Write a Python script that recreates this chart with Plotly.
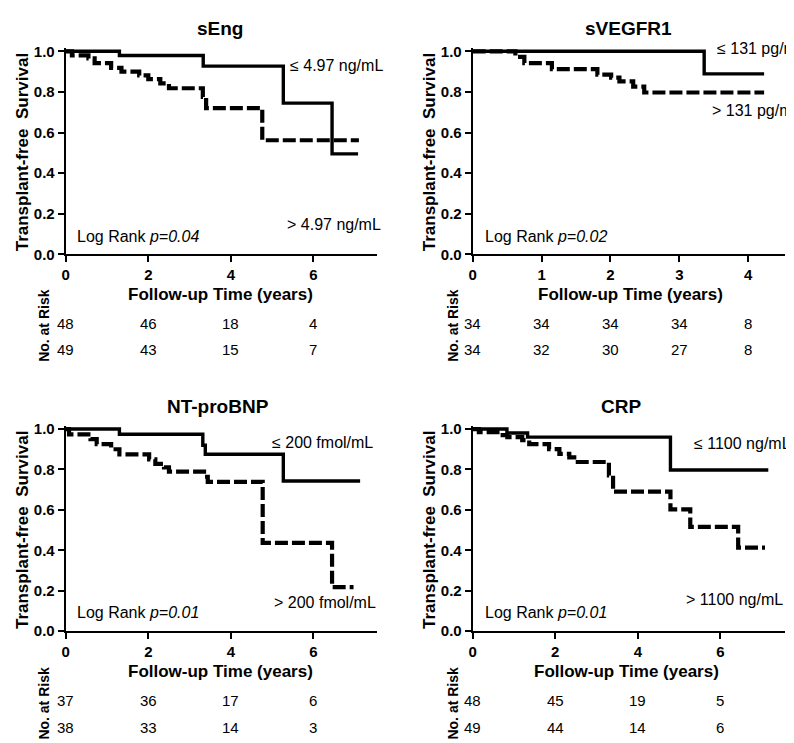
import plotly.graph_objects as go

W, H = 794, 743
FONT = "Arial, Liberation Sans, sans-serif"

# ---------------- data ----------------
panel_titles = ["sEng", "sVEGFR1", "NT-proBNP", "CRP"]

seng_low_t = [0, 1.3, 3.33, 5.27, 6.45, 7.08]
seng_low_s = [1.0, 0.979, 0.927, 0.745, 0.495, 0.495]
seng_high_t = [0, 0.15, 0.55, 0.7, 1.1, 1.35, 1.78, 2.0, 2.29, 2.5, 3.32, 3.4, 4.76, 7.1]
seng_high_s = [1.0, 0.98, 0.965, 0.942, 0.918, 0.9, 0.881, 0.863, 0.842, 0.818, 0.775, 0.72, 0.562, 0.562]

vegf_low_t = [0, 3.36, 4.23]
vegf_low_s = [1.0, 0.889, 0.889]
vegf_high_t = [0, 0.62, 0.75, 1.15, 1.81, 2.01, 2.13, 2.33, 2.49, 4.23]
vegf_high_s = [1.0, 0.972, 0.942, 0.912, 0.885, 0.87, 0.852, 0.826, 0.797, 0.797]

bnp_low_t = [0, 1.3, 3.32, 3.38, 5.27, 7.13]
bnp_low_s = [1.0, 0.974, 0.92, 0.875, 0.743, 0.743]
bnp_high_t = [0, 0.08, 0.6, 0.75, 1.1, 1.3, 2.02, 2.17, 2.38, 2.5, 3.35, 3.44, 4.77, 6.45, 6.97]
bnp_high_s = [1.0, 0.974, 0.95, 0.925, 0.9, 0.875, 0.85, 0.828, 0.81, 0.789, 0.764, 0.739, 0.437, 0.218, 0.218]

crp_low_t = [0, 0.83, 1.33, 4.79, 7.16]
crp_low_s = [1.0, 0.98, 0.96, 0.797, 0.797]
crp_high_t = [0, 0.15, 0.6, 0.84, 1.2, 1.37, 1.85, 2.1, 2.34, 2.46, 3.3, 3.4, 4.79, 5.27, 6.43, 7.08]
crp_high_s = [1.0, 0.985, 0.97, 0.96, 0.945, 0.925, 0.901, 0.877, 0.86, 0.837, 0.77, 0.69, 0.602, 0.516, 0.413, 0.413]

seng_ticks = [0, 2, 4, 6]
vegf_ticks = [0, 1, 2, 3, 4]
bnp_ticks = [0, 2, 4, 6]
crp_ticks = [0, 2, 4, 6]

seng_risk_low = [48, 46, 18, 4]
seng_risk_high = [49, 43, 15, 7]
vegf_risk_low = [34, 34, 34, 34, 8]
vegf_risk_high = [34, 32, 30, 27, 8]
bnp_risk_low = [37, 36, 17, 6]
bnp_risk_high = [38, 33, 14, 3]
crp_risk_low = [48, 45, 19, 5]
crp_risk_high = [49, 44, 14, 6]

low_labels = ["\u2264 4.97 ng/mL", "\u2264 131 pg/ml", "\u2264 200 fmol/mL", "\u2264 1100 ng/mL"]
high_labels = ["> 4.97 ng/mL", "> 131 pg/ml", "> 200 fmol/mL", "> 1100 ng/mL"]
pvalues = ["0.04", "0.02", "0.01", "0.01"]

y_ticks = [0.0, 0.2, 0.4, 0.6, 0.8, 1.0]

# ---------------- layout geometry (pixels) ----------------
geo = [
    dict(x0=54, ppu=41.5, xmax=7.55, y0=245, y1=38),
    dict(x0=463, ppu=69.25, xmax=4.53, y0=245, y1=38),
    dict(x0=54, ppu=41.5, xmax=7.55, y0=629, y1=423),
    dict(x0=463, ppu=41.5, xmax=7.57, y0=629, y1=423),
]
YMAX = 1.015

curves = [
    (seng_low_t, seng_low_s, seng_high_t, seng_high_s),
    (vegf_low_t, vegf_low_s, vegf_high_t, vegf_high_s),
    (bnp_low_t, bnp_low_s, bnp_high_t, bnp_high_s),
    (crp_low_t, crp_low_s, crp_high_t, crp_high_s),
]
ticks = [seng_ticks, vegf_ticks, bnp_ticks, crp_ticks]
risks = [
    (seng_risk_low, seng_risk_high),
    (vegf_risk_low, vegf_risk_high),
    (bnp_risk_low, bnp_risk_high),
    (crp_risk_low, crp_risk_high),
]

low_pos = [(5.38, 0.932), (3.52, 1.012), (4.94, 0.932), (5.3, 0.927)]
high_pos = [(5.3, 0.145), (3.45, 0.71), (5.0, 0.141), (5.12, 0.155)]
p_pos = [(0.22, 0.087), (0.145, 0.087), (0.22, 0.092), (0.24, 0.092)]

title_px = [(209, 15), (620, 15), (207, 400), (612, 400)]
xtitle_px = [(210, 286), (622, 286), (210, 670), (618, 670)]
ytitle_px = [(10, 141), (419, 141), (10, 526), (419, 526)]
risk_rows_py = [(315, 342), (315, 342), (700, 727), (700, 727)]
risklab_px = [(32, 317), (443, 317), (32, 702), (443, 702)]


def px2paper_x(px):
    return px / W


def px2paper_y(py):
    return 1 - py / H


fig = go.Figure()
annotations = []
layout_axes = {}

for i in range(4):
    g = geo[i]
    xn = "x" if i == 0 else f"x{i + 1}"
    yn = "y" if i == 0 else f"y{i + 1}"
    xkey = "xaxis" if i == 0 else f"xaxis{i + 1}"
    ykey = "yaxis" if i == 0 else f"yaxis{i + 1}"

    xd = [px2paper_x(g["x0"]), px2paper_x(g["x0"] + g["xmax"] * g["ppu"])]
    ppy = (g["y0"] - g["y1"])
    yd = [px2paper_y(g["y0"]), px2paper_y(g["y0"] - YMAX * ppy)]

    layout_axes[xkey] = dict(
        domain=xd, range=[0, g["xmax"]], anchor=yn,
        showline=True, linecolor="black", linewidth=2,
        ticks="outside", ticklen=6, tickwidth=2, tickcolor="black",
        tickvals=ticks[i], ticktext=[str(t) for t in ticks[i]],
        tickfont=dict(family=FONT, size=15, color="black", weight="bold"),
        showgrid=False, zeroline=False, fixedrange=True,
    )
    layout_axes[ykey] = dict(
        domain=yd, range=[0, YMAX], anchor=xn,
        showline=True, linecolor="black", linewidth=2,
        ticks="outside", ticklen=6, tickwidth=2, tickcolor="black",
        tickvals=y_ticks, ticktext=[f"{v:.1f}" for v in y_ticks],
        tickfont=dict(family=FONT, size=15, color="black", weight="bold"),
        showgrid=False, zeroline=False, fixedrange=True,
    )

    lt, ls, ht, hs = curves[i]
    fig.add_trace(go.Scatter(
        x=ht, y=hs, mode="lines", line=dict(color="black", width=4.2, dash="13px,4px", shape="hv"),
        xaxis=xn, yaxis=yn, showlegend=False, hoverinfo="skip"))
    fig.add_trace(go.Scatter(
        x=lt, y=ls, mode="lines", line=dict(color="black", width=3.4, shape="hv"),
        xaxis=xn, yaxis=yn, showlegend=False, hoverinfo="skip"))

    for (tx, (ax_, ay_)) in ((low_labels[i], low_pos[i]), (high_labels[i], high_pos[i])):
        annotations.append(dict(
            text=tx, x=ax_, y=ay_, xref=xn, yref=yn, xanchor="left", yanchor="middle",
            showarrow=False, font=dict(family=FONT, size=16, color="black")))
    annotations.append(dict(
        text=f"Log Rank <i>p={pvalues[i]}</i>", x=p_pos[i][0], y=p_pos[i][1], xref=xn, yref=yn,
        xanchor="left", yanchor="middle", showarrow=False,
        font=dict(family=FONT, size=16, color="black")))

    annotations.append(dict(
        text=f"<b>{panel_titles[i]}</b>", x=px2paper_x(title_px[i][0]), y=px2paper_y(title_px[i][1]),
        xref="paper", yref="paper", xanchor="center", yanchor="middle", showarrow=False,
        font=dict(family=FONT, size=19, color="black")))
    annotations.append(dict(
        text="<b>Follow-up Time (years)</b>", x=px2paper_x(xtitle_px[i][0]), y=px2paper_y(xtitle_px[i][1]),
        xref="paper", yref="paper", xanchor="center", yanchor="middle", showarrow=False,
        font=dict(family=FONT, size=17, color="black")))
    annotations.append(dict(
        text="<b>Transplant-free\u00a0 Survival</b>", x=px2paper_x(ytitle_px[i][0]), y=px2paper_y(ytitle_px[i][1]),
        xref="paper", yref="paper", xanchor="center", yanchor="middle", showarrow=False, textangle=-90,
        font=dict(family=FONT, size=17, color="black")))
    annotations.append(dict(
        text="<b>No. at Risk</b>", x=px2paper_x(risklab_px[i][0]), y=px2paper_y(risklab_px[i][1]),
        xref="paper", yref="paper", xanchor="center", yanchor="middle", showarrow=False, textangle=-90,
        font=dict(family=FONT, size=14, color="black")))
    for row, py in zip(risks[i], risk_rows_py[i]):
        for t, n in zip(ticks[i], row):
            annotations.append(dict(
                text=str(n), x=t, y=px2paper_y(py), xref=xn, yref="paper",
                xanchor="center", yanchor="middle", showarrow=False,
                font=dict(family=FONT, size=15, color="black")))

fig.update_layout(
    width=W, height=H, margin=dict(l=0, r=0, t=0, b=0),
    paper_bgcolor="white", plot_bgcolor="white",
    annotations=annotations, showlegend=False,
    **layout_axes,
)

fig.write_html("out.html", config={"displayModeBar": False})
